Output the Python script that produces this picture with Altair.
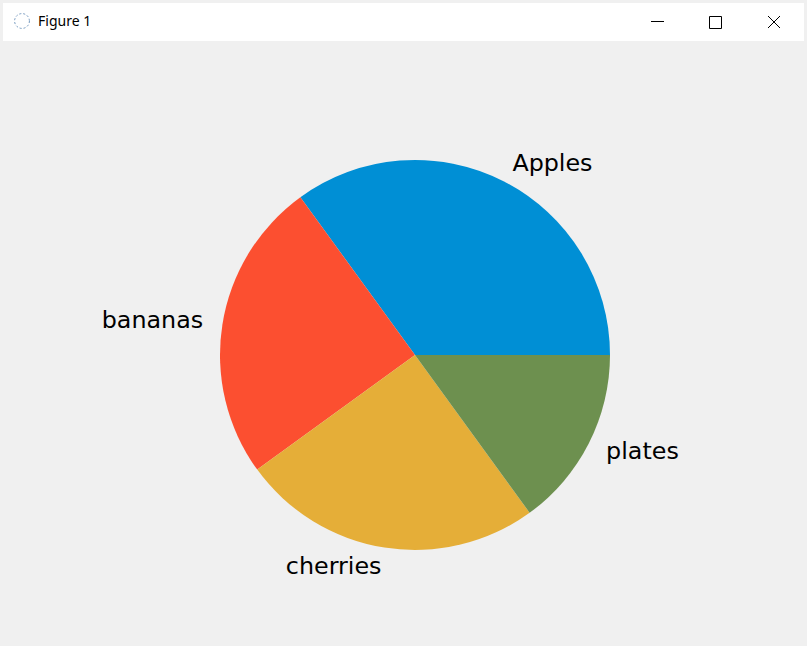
import math
import altair as alt
import pandas as pd

labels = ["Apples", "bananas", "cherries", "plates"]
values = [35, 25, 25, 15]
colors = ["#008fd5", "#fc4f30", "#e5ae38", "#6d904f"]

df = pd.DataFrame({"label": labels, "value": values, "order": list(range(len(labels)))})

W, H = 807, 646
CX, CY, R = 415, 355, 195
theta_range = [math.pi / 2, math.pi / 2 - 2 * math.pi]

base = alt.Chart(df)

pie = base.mark_arc(outerRadius=R, stroke=None).encode(
    theta=alt.Theta("value:Q", stack=True, scale=alt.Scale(range=theta_range)),
    color=alt.Color("label:N", scale=alt.Scale(domain=labels, range=colors), legend=None),
    order=alt.Order("order:Q"),
    x=alt.value(CX),
    y=alt.value(CY),
)

lab = base.transform_joinaggregate(total="sum(value)").transform_window(
    cum="sum(value)", sort=[alt.SortField("order")], frame=[None, 0]
).transform_calculate(
    mid="(datum.cum - datum.value / 2) / datum.total",
    side="cos(2 * PI * (datum.cum - datum.value / 2) / datum.total) >= 0 ? 'L' : 'R'",
)

def label_layer(side, align):
    return lab.transform_filter(alt.datum.side == side).mark_text(
        radius=R * 1.1, align=align, baseline="middle", font="DejaVu Sans",
        fontSize=23.8, color="black"
    ).encode(
        theta=alt.Theta("mid:Q", stack=None, scale=alt.Scale(domain=[0, 1], range=theta_range)),
        text="label:N",
        x=alt.value(CX),
        y=alt.value(CY),
    )

labels_left = label_layer("L", "left")
labels_right = label_layer("R", "right")

# window chrome
chrome_df = pd.DataFrame({"t": ["Figure 1"]})
cbase = alt.Chart(chrome_df)
titlebar = cbase.mark_rect(color="white").encode(
    x=alt.value(3), x2=alt.value(804), y=alt.value(3), y2=alt.value(41)
)
title_text = cbase.mark_text(align="left", baseline="middle", font="Noto Sans", fontSize=14, color="black").encode(
    text="t:N", x=alt.value(38), y=alt.value(22)
)
icon = cbase.mark_point(shape="circle", size=220, color="#3a6ea5", strokeWidth=1, strokeDash=[2, 2]).encode(
    x=alt.value(22), y=alt.value(21)
)
minimize = cbase.mark_rule(color="black", strokeWidth=1).encode(
    x=alt.value(651), x2=alt.value(664), y=alt.value(21.5), y2=alt.value(21.5)
)
maximize = cbase.mark_rect(fill=None, stroke="black", strokeWidth=1).encode(
    x=alt.value(709.5), x2=alt.value(721.5), y=alt.value(16.5), y2=alt.value(28.5)
)
close1 = cbase.mark_rule(color="black", strokeWidth=1).encode(
    x=alt.value(768), x2=alt.value(780), y=alt.value(16), y2=alt.value(28)
)
close2 = cbase.mark_rule(color="black", strokeWidth=1).encode(
    x=alt.value(768), x2=alt.value(780), y=alt.value(28), y2=alt.value(16)
)

chart = alt.layer(
    titlebar, icon, title_text, minimize, maximize, close1, close2,
    pie, labels_left, labels_right
).resolve_scale(theta="independent").properties(
    width=W, height=H, padding=0, background="#f0f0f0",
    autosize=alt.AutoSizeParams(type="none")
).configure_view(stroke=None)

chart.save("out.html", embed_options={"renderer": "svg", "actions": False})
